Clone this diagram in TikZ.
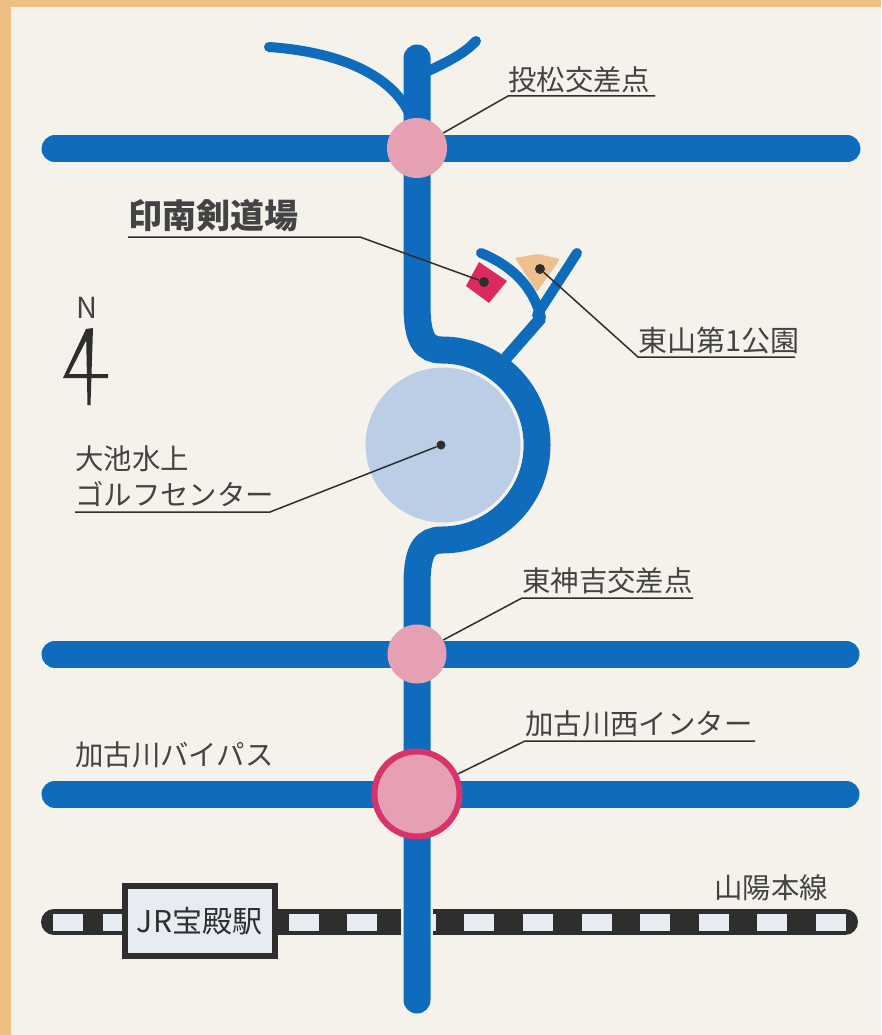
\documentclass[tikz,border=0pt]{standalone}
\usepackage{fontspec}
\setmainfont{Noto Sans CJK JP}
\definecolor{paper}{HTML}{F4F2EA}
\definecolor{edge}{HTML}{EFBE82}
\definecolor{road}{HTML}{0F6CBC}
\definecolor{pinkc}{HTML}{E5A0B4}
\definecolor{ringc}{HTML}{D8336C}
\definecolor{lake}{HTML}{BCCDE6}
\definecolor{ink}{HTML}{2E2E2E}
\definecolor{tan}{HTML}{EFC08E}
\definecolor{crimson}{HTML}{DD2A5E}
\definecolor{win}{HTML}{E6ECF2}
\tikzset{
  x=1pt,y=-1pt,
  roadline/.style={draw=road,line width=27pt,line cap=round},
  branchline/.style={draw=road,line width=10pt,line cap=round},
  leader/.style={draw=ink,line width=1.5pt},
  railline/.style={draw=ink,line width=26pt,line cap=round},
  winbox/.style={fill=win,draw=none,minimum width=30pt,minimum height=17pt,inner sep=0pt},
  junction/.style={circle,fill=pinkc,minimum size=60pt,inner sep=0pt},
  lab/.style={anchor=west,inner sep=0pt,text=ink!90,font=\fontsize{28.4}{28.4}\selectfont},
  dotm/.style={circle,fill=ink,minimum size=10pt,inner sep=0pt},
}
\begin{document}
\begin{tikzpicture}
\useasboundingbox (0,0) rectangle (881,1035);
\fill[edge] (0,0) rectangle (881,1035);
\fill[paper] (11,7) rectangle (881,1035);
% rail (runs under the main road)
\draw[railline] (54,922) -- (845,922);
\foreach \xx in {68,118,304,362,421,479,538,597,655,714,772,831}
  \node[winbox] at (\xx,922) {};
\fill[paper] (401,905) rectangle (404,939);
\fill[paper] (430,905) rectangle (433,939);
% roads
\coordinate (mt) at (417,58);
\coordinate (mb) at (417,1000);
\draw[branchline] (269,47) .. controls (340,52) and (392,75) .. (410,115);
\draw[branchline] (476,41) .. controls (463,55) and (445,63) .. (420,75);
\draw[road,line width=27pt,line cap=round] (mt) -- (417,305)
  .. controls (417,340) and (425,350) .. (442,350)
  arc[start angle=-90,end angle=90,radius=95]
  .. controls (425,540) and (417,550) .. (417,585) -- (mb);
\draw[roadline] (55,149) -- (847,149);
\draw[roadline] (55,654) -- (846,654);
\draw[roadline] (55,794) -- (846,794);
% park
\fill[tan,rounded corners=2pt] (515,258) -- (538,254) -- (560,259) -- (537,292) -- cycle;
% branch
\draw[branchline] (481,253) .. controls (510,265) and (533,285) .. (541,318);
\draw[branchline,line cap=butt,line width=12pt] (541,318) -- (506,358);
\draw[branchline] (577,253) -- (537,315);
% lake
\node[circle,fill=lake,draw=paper,line width=3pt,minimum size=158pt,inner sep=0pt] (lakeN) at (443,445) {};
\node[dotm,minimum size=9pt] (lakeD) at (441,445) {};
% dojo
\fill[crimson] (479,262) -- (507,281) -- (489,303) -- (466,286) -- cycle;
\node[dotm] (dojoD) at (484,282) {};
\node[dotm] (parkD) at (540,269) {};
% station
\node[draw=ink,line width=6pt,fill=win,minimum width=150pt,minimum height=70pt,inner sep=0pt,text=ink,font=\fontsize{30}{30}\selectfont] (jr) at (199.5,921) {JR宝殿駅};
% junctions
\node[junction] (j1) at (417,148) {};
\node[junction,minimum size=59pt] (j2) at (417,654) {};
\node[junction,draw=ringc,line width=6pt,minimum size=85pt] (j3) at (417,794) {};
% labels
\node[lab] (t1) at (508,80) {投松交差点};
\node[lab,font=\bfseries\fontsize{34}{34}\selectfont] (t2) at (128,216) {印南剣道場};
\node[lab,font=\fontsize{29}{29}\selectfont] (t3) at (638,340) {東山第1公園};
\node[lab] (t4) at (75,459) {大池水上};
\node[lab] (t5) at (75,494) {ゴルフセンター};
\node[lab] (t6) at (522,581) {東神吉交差点};
\node[lab] (t7) at (525,724) {加古川西インター};
\node[lab] (t8) at (75,755) {加古川バイパス};
\node[lab] (t9) at (714,888) {山陽本線};
\node[lab,font=\fontsize{29}{29}\selectfont,anchor=center] (nn) at (87,308) {N};
% leaders
\coordinate (u1a) at (655,96); \coordinate (u1b) at (508,96);
\draw[leader] (u1a) -- (u1b) -- (j1);
\coordinate (u2a) at (128,237); \coordinate (u2b) at (360,237);
\draw[leader] (u2a) -- (u2b) -- (dojoD);
\coordinate (u3a) at (795,357); \coordinate (u3b) at (638,357);
\draw[leader] (u3a) -- (u3b) -- (parkD);
\coordinate (u4a) at (75,512); \coordinate (u4b) at (270,512);
\draw[leader] (u4a) -- (u4b) -- (lakeD);
\coordinate (u6a) at (693,598); \coordinate (u6b) at (522,598);
\draw[leader] (u6a) -- (u6b) -- (j2);
\coordinate (u7a) at (755,741); \coordinate (u7b) at (525,741);
\draw[leader] (u7a) -- (u7b) -- (j3);
% north mark
\fill[ink] (86,329) -- (93,328) -- (90.5,405) -- (87.5,405) -- cycle;
\fill[ink] (86,329) -- (91,331) -- (69,374) -- (108,374) -- (108,378) -- (63,378) -- cycle;
\end{tikzpicture}
\end{document}
